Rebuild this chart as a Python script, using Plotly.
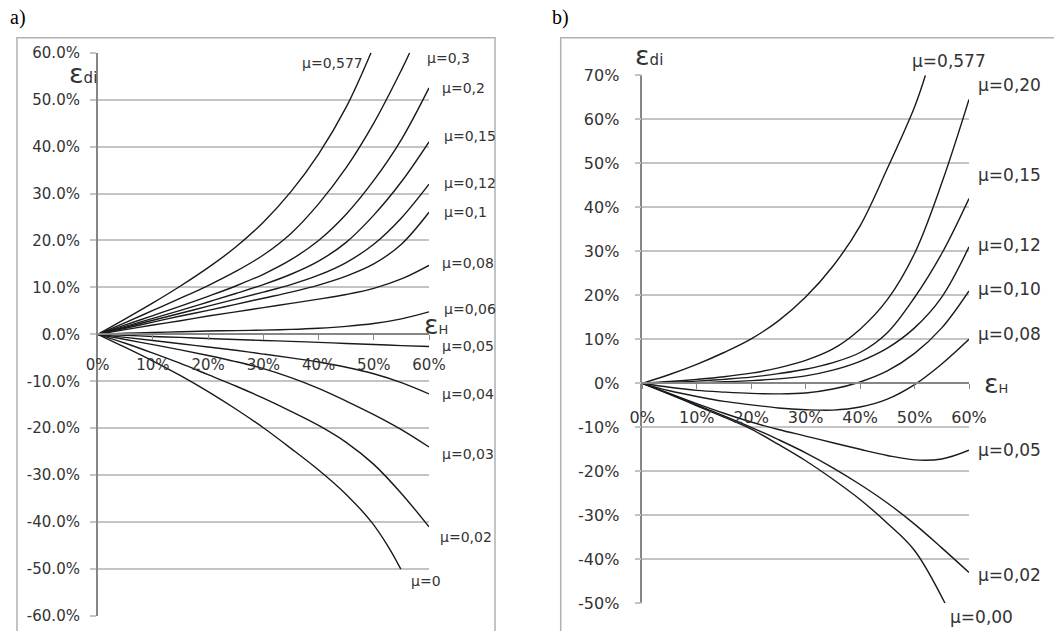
import plotly.graph_objects as go

W, H = 1054, 631

# ---------------- Panel a) data ----------------
A_X_TICKS = [0, 10, 20, 30, 40, 50, 60]
A_X_TICKTEXT = ["0%", "10%", "20%", "30%", "40%", "50%", "60%"]
A_Y_TICKS = [-60, -50, -40, -30, -20, -10, 0, 10, 20, 30, 40, 50, 60]
A_Y_TICKTEXT = ["-60.0%", "-50.0%", "-40.0%", "-30.0%", "-20.0%", "-10.0%", "0.0%",
                "10.0%", "20.0%", "30.0%", "40.0%", "50.0%", "60.0%"]

A_MU = ["μ=0,577", "μ=0,3", "μ=0,2", "μ=0,15", "μ=0,12", "μ=0,1", "μ=0,08",
        "μ=0,06", "μ=0,05", "μ=0,04", "μ=0,03", "μ=0,02", "μ=0"]
X_FULL = [0, 5, 10, 15, 20, 25, 30, 35, 40, 45, 50, 55, 60]
A_X = [
    [0, 5, 10, 15, 20, 25, 30, 35, 40, 45, 49.5],
    [0, 5, 10, 15, 20, 25, 30, 35, 40, 45, 50, 55, 56.5],
    X_FULL, X_FULL, X_FULL, X_FULL, X_FULL, X_FULL, X_FULL, X_FULL, X_FULL, X_FULL,
    [0, 5, 10, 15, 20, 25, 30, 35, 40, 45, 49.6, 52.5, 54.9],
]
A_Y = [
    [0, 3.3, 6.7, 10.3, 14.2, 18.6, 23.9, 30.4, 38.4, 48.4, 60],
    [0, 2.5, 5.1, 7.7, 10.4, 13.4, 16.9, 21.5, 27.8, 35.5, 45.0, 56.3, 60],
    [0, 2.0, 4.0, 6.0, 8.1, 10.3, 12.8, 15.9, 20.0, 25.6, 32.8, 41.5, 52.5],
    [0, 1.7, 3.4, 5.1, 6.9, 8.7, 10.6, 12.8, 15.6, 19.6, 25.4, 32.5, 41.0],
    [0, 1.5, 3.0, 4.5, 6.0, 7.5, 9.0, 10.6, 12.6, 15.3, 19.2, 24.8, 32.0],
    [0, 1.3, 2.6, 3.9, 5.1, 6.4, 7.7, 9.0, 10.5, 12.4, 15.0, 19.2, 26.0],
    [0, 1.0, 2.0, 2.9, 3.9, 4.8, 5.7, 6.6, 7.5, 8.5, 9.8, 11.8, 14.7],
    [0, 0.25, 0.4, 0.55, 0.7, 0.8, 0.9, 1.05, 1.3, 1.7, 2.3, 3.3, 4.8],
    [0, -0.2, -0.45, -0.65, -0.9, -1.1, -1.3, -1.5, -1.7, -1.95, -2.15, -2.4, -2.6],
    [0, -0.65, -1.3, -2.0, -2.7, -3.4, -4.2, -5.0, -5.9, -7.0, -8.4, -10.3, -12.7],
    [0, -1.1, -2.2, -3.3, -4.5, -5.8, -7.3, -9.2, -11.5, -14.2, -17.1, -20.3, -24.0],
    [0, -1.9, -4.0, -6.2, -8.6, -11.0, -13.6, -16.4, -19.4, -23.0, -27.7, -33.9, -41.0],
    [0, -2.8, -5.7, -8.8, -12.2, -15.9, -19.9, -24.3, -28.9, -34.1, -40.0, -45.0, -50.0],
]
# label anchor positions (data units of each panel: left edge / vertical centre)
A_LABEL_X = [36.7, 59.3, 62.0, 62.3, 62.3, 62.3, 62.0, 62.3, 62.0, 62.0, 62.0, 61.6, 56.4]
A_LABEL_Y = [57.8, 58.8, 52.4, 42.2, 32.3, 26.1, 15.1, 5.4, -2.4, -12.8, -25.5, -43.1, -52.6]

# ---------------- Panel b) data ----------------
B_X_TICKS = [0, 10, 20, 30, 40, 50, 60]
B_X_TICKTEXT = ["0%", "10%", "20%", "30%", "40%", "50%", "60%"]
B_Y_TICKS = [-50, -40, -30, -20, -10, 0, 10, 20, 30, 40, 50, 60, 70]
B_Y_TICKTEXT = ["-50%", "-40%", "-30%", "-20%", "-10%", "0%", "10%", "20%",
                "30%", "40%", "50%", "60%", "70%"]

B_MU = ["μ=0,577", "μ=0,20", "μ=0,15", "μ=0,12", "μ=0,10", "μ=0,08",
        "μ=0,05", "μ=0,02", "μ=0,00"]
B_X = [
    [0, 5, 10, 15, 20, 25, 30, 35, 40, 45, 50, 52],
    X_FULL, X_FULL, X_FULL, X_FULL, X_FULL, X_FULL, X_FULL,
    [0, 5, 10, 15, 20, 25, 30, 35, 40, 45, 50, 55.6],
]
B_Y = [
    [0, 2.0, 4.3, 7.0, 10.1, 14.2, 19.6, 26.6, 35.8, 48.8, 62.8, 70],
    [0, 0.4, 0.9, 1.5, 2.3, 3.5, 5.2, 7.8, 12.3, 19.0, 29.5, 45.5, 64.5],
    [0, 0.2, 0.5, 0.9, 1.4, 2.2, 3.2, 4.7, 7.0, 11.5, 19.5, 29.5, 42.0],
    [0, 0.05, 0.15, 0.35, 0.6, 1.0, 1.7, 3.0, 5.0, 8.0, 12.6, 19.6, 31.0],
    [0, -0.9, -1.6, -2.0, -2.3, -2.4, -2.2, -1.3, 0.3, 2.8, 6.8, 12.6, 21.0],
    [0, -1.7, -3.0, -4.1, -4.9, -5.6, -6.0, -6.1, -5.4, -3.6, -0.3, 4.4, 10.0],
    [0, -2.3, -4.6, -6.8, -8.8, -10.5, -12.0, -13.5, -15.0, -16.4, -17.4, -17.2, -15.2],
    [0, -2.4, -4.9, -7.4, -10.0, -12.8, -15.8, -19.2, -23.0, -27.2, -32.0, -37.4, -43.0],
    [0, -2.5, -5.1, -7.7, -10.4, -13.9, -17.6, -21.8, -26.4, -31.8, -38.0, -50.0],
]
B_LABEL_X = [49.2, 61.3, 61.3, 61.3, 61.3, 61.3, 61.3, 61.3, 56.2]
B_LABEL_Y = [73.3, 67.7, 47.4, 31.4, 21.5, 11.1, -15.1, -43.6, -53.1]

# ---------------- layout geometry (pixels) ----------------
A_PX = (97.7, 429.0)     # x pixel of 0% and 60%
A_PY = (52.7, 616.0)     # y pixel of top and bottom of range
B_PX = (642.3, 969.0)
B_PY = (75.3, 603.3)
X_RANGE = (0, 60)
A_RANGE = (-60, 60)
B_RANGE = (-50, 70)


def dom_x(p):
    return [p[0] / W, p[1] / W]


def dom_y(p):
    return [1 - p[1] / H, 1 - p[0] / H]


ADX, ADY = dom_x(A_PX), dom_y(A_PY)
BDX, BDY = dom_x(B_PX), dom_y(B_PY)


def to_paper(v, dom, rng):
    return dom[0] + (v - rng[0]) / (rng[1] - rng[0]) * (dom[1] - dom[0])


AXIS_COL = "#868686"
GRID_COL = "#c4c4c4"
TXT_COL = "#333333"
LINE_COL = "#1a1a1a"
FONT = "DejaVu Sans"

fig = go.Figure()

for xs, ys in zip(A_X, A_Y):
    fig.add_trace(go.Scatter(x=xs, y=ys, mode="lines", xaxis="x", yaxis="y",
                             line=dict(color=LINE_COL, width=1.4, shape="spline", smoothing=1),
                             showlegend=False, hoverinfo="skip"))
for xs, ys in zip(B_X, B_Y):
    fig.add_trace(go.Scatter(x=xs, y=ys, mode="lines", xaxis="x2", yaxis="y2",
                             line=dict(color=LINE_COL, width=1.4, shape="spline", smoothing=1),
                             showlegend=False, hoverinfo="skip"))


def xaxis_cfg(dx, dy, rng, ticks, text, fsize, standoff):
    return dict(domain=dx, range=list(X_RANGE), anchor="free",
                position=to_paper(0, dy, rng), automargin=False,
                showline=True, linecolor=AXIS_COL, linewidth=1.5,
                ticks="outside", ticklen=5, tickcolor=AXIS_COL, tickwidth=1.2,
                tickvals=ticks, ticktext=text, ticklabelstandoff=standoff,
                tickfont=dict(family=FONT, size=fsize, color=TXT_COL),
                showgrid=False, zeroline=False, fixedrange=True)


def yaxis_cfg(dy, rng, ticks, text, fsize, standoff, xanchor):
    return dict(domain=dy, range=list(rng), anchor=xanchor, automargin=False,
                showline=True, linecolor=AXIS_COL, linewidth=1.5,
                ticks="outside", ticklen=6, tickcolor=GRID_COL, tickwidth=1.5,
                tickvals=ticks, ticktext=text, ticklabelstandoff=standoff,
                tickfont=dict(family=FONT, size=fsize, color=TXT_COL),
                showgrid=True, gridcolor=GRID_COL, gridwidth=1.5,
                zeroline=False, fixedrange=True)


fig.update_layout(
    width=W, height=H, margin=dict(l=0, r=0, t=0, b=0, pad=0, autoexpand=False),
    paper_bgcolor="white", plot_bgcolor="white",
    xaxis=xaxis_cfg(ADX, ADY, A_RANGE, A_X_TICKS, A_X_TICKTEXT, 15, 12),
    yaxis=yaxis_cfg(ADY, A_RANGE, A_Y_TICKS, A_Y_TICKTEXT, 15, 7, "x"),
    xaxis2=xaxis_cfg(BDX, BDY, B_RANGE, B_X_TICKS, B_X_TICKTEXT, 16, 15),
    yaxis2=yaxis_cfg(BDY, B_RANGE, B_Y_TICKS, B_Y_TICKTEXT, 16, 12, "x2"),
)

ann = []


def label(text, x, y, dx, dy, rng, size, xanchor="left"):
    return dict(text=text, x=to_paper(x, dx, X_RANGE), y=to_paper(y, dy, rng),
                xref="paper", yref="paper", xanchor=xanchor, yanchor="middle",
                showarrow=False, font=dict(family=FONT, size=size, color=TXT_COL))


for t, lx, ly in zip(A_MU, A_LABEL_X, A_LABEL_Y):
    ann.append(label(t, lx, ly, ADX, ADY, A_RANGE, 14))
for t, lx, ly in zip(B_MU, B_LABEL_X, B_LABEL_Y):
    ann.append(label(t, lx, ly, BDX, BDY, B_RANGE, 17))

# axis symbols
EDI = "<span style='font-size:27px'>ε</span>di"
EH = "<span style='font-size:27px'>ε</span>H"
ann.append(label(EDI, -5.6, 55.6, ADX, ADY, A_RANGE, 15))
ann.append(label(EH, 58.7, 2.0, ADX, ADY, A_RANGE, 13))
ann.append(label(EDI, -1.7, 74.5, BDX, BDY, B_RANGE, 15))
ann.append(label(EH, 62.3, 0.0, BDX, BDY, B_RANGE, 13))

# panel letters
ann.append(dict(text="a)", x=8 / W, y=1 - 18 / H, xref="paper", yref="paper",
                xanchor="left", yanchor="middle", showarrow=False,
                font=dict(family="Liberation Serif", size=20, color="black")))
ann.append(dict(text="b)", x=550 / W, y=1 - 18 / H, xref="paper", yref="paper",
                xanchor="left", yanchor="middle", showarrow=False,
                font=dict(family="Liberation Serif", size=20, color="black")))
fig.update_layout(annotations=ann)

# panel frames
BOX_COL = "#b0b0b0"
fig.add_shape(type="rect", xref="paper", yref="paper", x0=17 / W, x1=495 / W,
              y0=-0.05, y1=1 - 37.7 / H, line=dict(color=BOX_COL, width=1.5), layer="below")
fig.add_shape(type="rect", xref="paper", yref="paper", x0=560.7 / W, x1=1.05,
              y0=-0.05, y1=1 - 37.7 / H, line=dict(color=BOX_COL, width=1.5), layer="below")

fig.write_html("out.html", config={"displayModeBar": False},
               post_script="document.body.style.margin='0px';document.body.style.overflow='hidden';")
